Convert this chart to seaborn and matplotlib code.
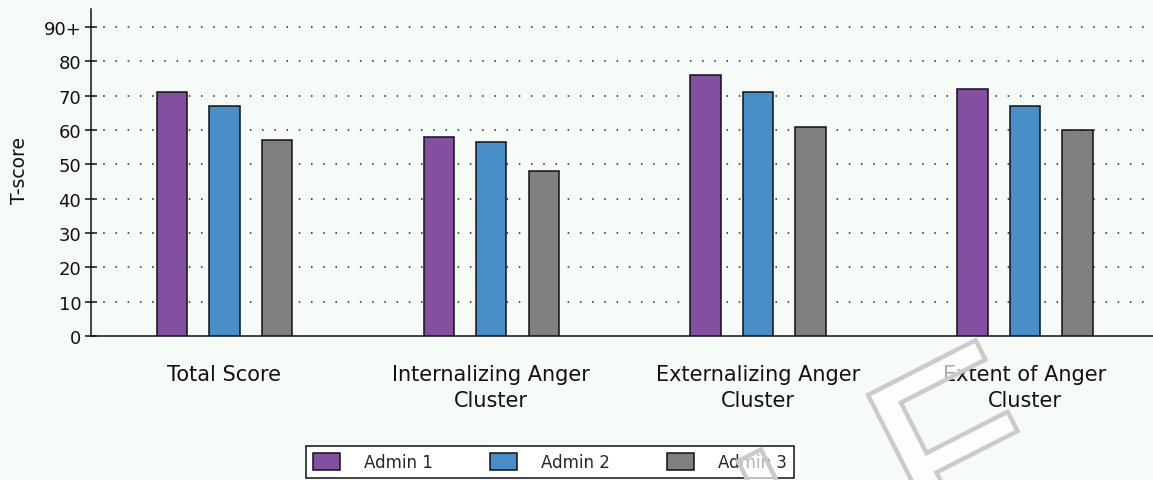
import matplotlib
matplotlib.use("Agg")
import matplotlib.pyplot as plt
import matplotlib.transforms as mtransforms
from matplotlib.textpath import TextPath
from matplotlib.patches import PathPatch
from matplotlib.font_manager import FontProperties
import seaborn as sns
import pandas as pd

categories = ["Total Score", "Internalizing Anger\nCluster", "Externalizing Anger\nCluster", "Extent of Anger\nCluster"]
admin1 = [71, 58, 76, 72]
admin2 = [67, 56.5, 71, 67]
admin3 = [57, 48, 61, 60]
series_names = ["Admin 1", "Admin 2", "Admin 3"]
colors = ["#844fa0", "#488ec8", "#808080"]
yticks = [0, 10, 20, 30, 40, 50, 60, 70, 80, 90]
ytick_labels = ["0", "10", "20", "30", "40", "50", "60", "70", "80", "90+"]
watermark = "SAMPLE"

rows = []
for name, vals in zip(series_names, [admin1, admin2, admin3]):
    for c, v in zip(categories, vals):
        rows.append({"category": c, "series": name, "value": v})
df = pd.DataFrame(rows)

sns.set_style("white")
plt.rcParams["font.family"] = ["DejaVu Sans"]
bg = "#f7fbf8"

fig = plt.figure(figsize=(11.53, 4.81), dpi=100, facecolor=bg)
ax = fig.add_axes([91 / 1153, (481 - 337) / 481, 1 - 91 / 1153, (337 - 10) / 481])
ax.set_facecolor(bg)

sns.barplot(data=df, x="category", y="value", hue="series", order=categories,
            hue_order=series_names, palette=colors, saturation=1, width=0.59, gap=0.42,
            edgecolor="#111111", linewidth=1.1, ax=ax, zorder=3)

ax.set_xlim(-0.5, 3.48)
ax.set_ylim(0, 95.3)
ax.set_yticks(yticks)
ax.set_yticklabels(ytick_labels, fontsize=13, color="#111111")
ax.set_xlabel("")
ax.set_ylabel("T-score", fontsize=13.5, color="#111111", labelpad=12)
ax.yaxis.set_label_coords(-62 / 1062, (337 - 171) / 327)
ax.tick_params(axis="y", direction="inout", length=8, width=1.1, color="#111111", pad=3, left=True)
ax.tick_params(axis="x", length=0, pad=20, labelsize=15, colors="#111111")
for lbl in ax.get_xticklabels():
    lbl.set_linespacing(1.4)

for y in yticks[1:]:
    ax.axhline(y, color="#222222", linestyle=(0, (1, 7)), linewidth=1.1, zorder=1)

for s in ["top", "right"]:
    ax.spines[s].set_visible(False)
for s in ["left", "bottom"]:
    ax.spines[s].set_color("#111111")
    ax.spines[s].set_linewidth(1.1)

handles, labels = ax.get_legend_handles_labels()
ax.get_legend().remove()
leg = fig.legend(handles, labels, loc="lower center", bbox_to_anchor=(550 / 1153, 2 / 481),
                 ncol=3, fontsize=12, frameon=True, fancybox=False, framealpha=1,
                 facecolor="white", edgecolor="#111111", borderaxespad=0,
                 handlelength=1.63, handleheight=1.2, handletextpad=1.45,
                 columnspacing=3.4, borderpad=0.42)
leg.get_frame().set_linewidth(1.1)

# diagonal outlined watermark (mostly off-canvas)
fp = FontProperties(family="DejaVu Sans")
wm_size = 262
full_path = TextPath((0, 0), watermark, size=wm_size, prop=fp)
last_path = TextPath((0, 0), watermark[-1], size=wm_size, prop=fp)
fb = full_path.get_extents()
lb = last_path.get_extents()
shift = fb.x1 - lb.x1
cx, cy = lb.x0 + shift, lb.y1
tr = mtransforms.Affine2D().translate(-cx, -cy).rotate_deg(27).translate(868, 481 - 396)
wm = PathPatch(full_path, transform=tr, facecolor=(1, 1, 1, 0.65),
               edgecolor="#cbcbcb", linewidth=3.2, zorder=20)
fig.add_artist(wm)

fig.savefig("out.png", dpi=100, facecolor=bg)
